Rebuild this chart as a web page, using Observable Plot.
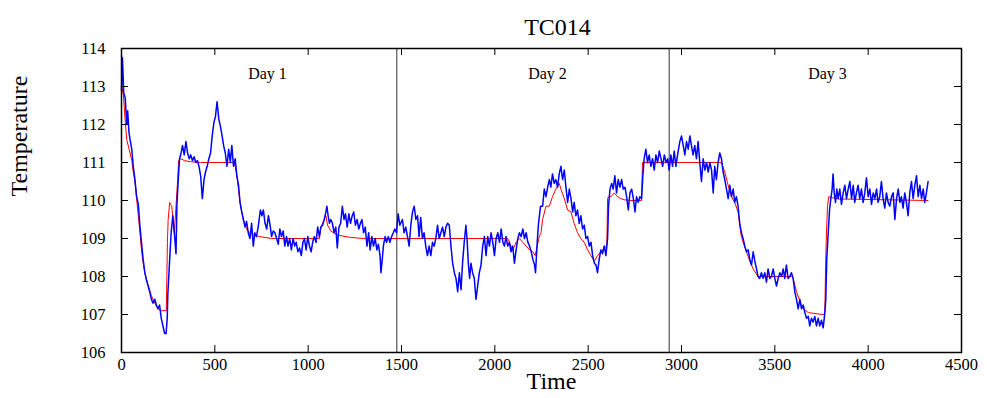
<!DOCTYPE html>
<html><head><meta charset="utf-8">
<script src="https://cdn.jsdelivr.net/npm/d3@7"></script>
<script src="https://cdn.jsdelivr.net/npm/@observablehq/plot@0.6"></script>
<style>body{margin:0;background:#fff}</style>
</head><body><div id="chart"></div>
<script>
const title = "TC014";
const xLabel = "Time";
const yLabel = "Temperature";
const xTicks = [0, 500, 1000, 1500, 2000, 2500, 3000, 3500, 4000, 4500];
const yTicks = [106, 107, 108, 109, 110, 111, 112, 113, 114];
const dayNames = ["Day 1", "Day 2", "Day 3"];
const dayLabelTime = [782, 2282, 3782];
const dayBoundaries = [1475, 2934];

const blueTime = [0,5,12,20,28,33,40,46,55,63,72,81,90,99,107,116,125,134,143,151,160,169,178,187,195,204,213,222,231,239,245,248,257,266,275,283,292,297,304,311,319,327,336,345,354,363,371,380,389,398,407,415,424,433,442,450,459,468,477,486,495,503,512,521,530,539,547,556,565,574,583,591,600,609,618,627,635,644,653,662,670,679,688,697,706,714,723,732,
744,752,760,769,778,787,796,804,813,822,831,840,848,857,866,875,884,892,901,910,919,928,936,945,954,963,972,980,989,998,1007,1016,1024,1033,1042,1051,1060,1068,1077,1086,1095,1100,1107,1114,1121,1130,1139,1148,1156,1165,1174,1183,1192,1200,1209,1218,1227,1236,1244,1253,1262,1271,1280,1288,1297,1306,1315,1324,1332,1341,1350,1359,1368,1376,1385,1390,1397,1403,1412,1420,1429,1438,1447,1456,1464,1473,1482,1491,
1505,1514,1523,1532,1541,1550,1559,1568,1577,1586,1594,1603,1612,1621,1630,1639,1648,1657,1666,1675,1684,1693,1702,1711,1720,1729,1738,1747,1756,1765,1774,1783,1792,1801,1810,1819,1827,1836,1845,1851,1858,1865,1872,1881,1890,1899,1908,1917,1926,1935,1944,1953,1962,1971,1980,1989,1998,2007,2016,2025,2034,2043,2051,2060,2069,2078,2087,2096,2105,2114,2123,2132,2141,2150,2159,2168,2177,2186,2195,2204,2213,2218,2227,2234,2245,
2256,2265,2274,2283,2292,2300,2309,2318,2327,2336,2345,2354,2363,2372,2381,2390,2399,2408,2417,2425,2434,2443,2452,2461,2470,2479,2488,2497,2506,2515,2524,2533,2542,2550,2559,2568,2577,2586,2595,2604,2609,2617,2626,2634,2643,2652,2661,2670,2679,2688,2697,2706,2715,2724,2733,2742,2751,2759,2768,2777,2786,2793,2800,2809,2818,2827,2836,2845,2854,2863,2872,2881,2890,2899,2908,2917,2926,2934,2943,2952,2961,2970,2979,
2991,3000,3009,3018,3027,3036,3045,3053,3062,3071,3080,3089,3098,3107,3116,3125,3134,3143,3152,3161,3170,3178,3187,3196,3205,3214,3223,3232,3241,3250,3259,3268,3277,3285,3294,3303,3312,3321,3330,3339,3348,3357,3366,3375,3384,3393,3402,3410,3419,3428,3437,3446,3455,3464,3473,3482,3491,3500,3509,3518,3527,3536,3545,3553,3562,3571,3580,3589,3598,3607,3616,3625,3634,3643,3652,3661,3670,3679,3687,3696,3705,3714,3723,3732,
3741,3750,3759,3768,3773,3778,3786,3793,3800,3807,3812,3818,3825,3832,3839,3848,3857,3866,3875,3884,3893,3902,3911,3920,3928,3937,3946,3955,3964,3973,3982,3991,4000,4009,4018,4027,4036,4045,4053,4062,4071,4080,4089,4098,4107,4116,4125,4134,4143,4152,4161,4170,4178,4187,4196,4205,4214,4223,4232,4241,4250,4259,4268,4277,4286,4295,4303,4312,4321];
const blueTemp = [112.9,113.76,112.84,112.7,112.0,112.36,111.8,111.6,111.35,110.9,110.55,110.1,109.9,109.3,108.9,108.45,108.1,107.9,107.75,107.6,107.4,107.3,107.4,107.25,107.15,107.25,106.9,106.7,106.5,106.5,106.9,107.5,108.35,109.15,109.6,109.15,108.6,109.9,110.55,111.1,111.25,111.45,111.2,111.55,111.25,111.1,111.2,111.05,111.15,111.0,111.05,110.9,110.65,110.05,110.55,110.75,110.9,111.1,111.25,111.7,112.05,112.2,112.6,112.15,111.95,111.7,111.45,111.25,110.9,111.35,111.0,111.45,110.9,111.1,110.65,110.4,109.95,109.7,109.5,109.3,109.45,109.15,109.0,109.4,108.8,109.15,109.05,109.3,
109.75,109.6,109.75,109.4,109.25,109.6,109.35,109.05,109.2,109.15,109.0,108.85,109.25,109.05,109.2,108.8,109.05,108.8,109.0,108.7,109.0,108.8,108.9,108.65,108.75,108.55,108.9,109.0,108.7,109.05,108.8,108.65,108.9,109.05,108.9,109.3,109.05,109.3,109.35,109.5,109.7,109.85,109.6,109.4,109.5,109.4,109.15,109.3,108.75,109.3,109.4,109.85,109.5,109.65,109.3,109.65,109.4,109.6,109.7,109.35,109.5,109.25,109.4,109.5,109.15,109.3,108.8,109.15,108.7,109.05,108.8,109.0,108.7,108.85,108.55,108.1,108.45,108.8,109.05,108.9,109.05,108.9,109.05,109.15,109.25,109.15,109.65,109.35,
109.5,109.15,109.3,109.05,108.8,109.35,109.7,109.85,109.5,109.6,109.05,109.55,109.0,109.15,108.8,108.55,108.8,108.55,108.9,108.8,109.0,109.35,109.0,109.15,109.3,109.05,109.3,109.4,109.35,108.8,108.35,108.1,107.95,107.6,108.1,107.65,108.35,108.9,109.35,109.0,108.35,107.95,108.35,108.1,107.95,107.4,107.75,108.1,108.3,108.8,109.05,108.55,109.05,108.8,109.15,108.9,108.55,109.0,109.15,108.9,109.25,108.9,108.8,109.05,108.8,108.9,108.65,108.8,108.35,108.7,109.0,109.15,109.05,109.25,109.0,109.15,108.9,108.8,108.65,108.45,108.3,108.1,108.9,109.4,109.85,
109.85,110.3,110.1,110.35,110.55,110.35,110.7,110.45,110.55,110.35,110.7,110.9,110.55,110.8,110.35,109.95,110.3,110.05,109.7,109.95,109.6,109.75,109.4,109.6,109.25,109.35,109.0,109.05,108.8,108.9,108.55,108.35,108.3,108.1,108.45,108.7,108.6,108.8,108.55,109.0,109.85,110.3,110.45,110.3,110.65,110.2,110.55,110.35,110.55,110.3,110.35,110.1,109.75,110.2,110.3,110.05,109.7,110.1,109.95,110.1,110.05,110.65,111.1,111.35,111.0,111.2,110.9,111.1,110.8,111.2,111.0,111.3,111.1,110.9,111.2,111.0,111.1,110.8,111.2,110.9,111.3,110.9,111.2,
111.55,111.7,111.45,111.2,111.55,111.35,111.7,111.45,111.2,111.45,111.1,111.55,111.0,110.5,111.1,110.8,111.0,110.75,111.0,110.8,110.2,110.9,110.55,111.0,111.25,111.1,110.75,110.55,110.3,110.05,110.4,110.1,110.3,109.95,110.1,109.85,109.4,109.15,109.0,108.8,108.65,108.7,108.45,108.3,108.65,108.4,108.2,108.0,107.95,108.1,107.95,108.1,107.85,108.2,107.95,108.0,108.2,107.95,107.75,107.95,108.1,108.0,108.2,107.95,108.3,107.95,108.0,108.1,107.95,107.6,107.4,107.15,107.4,107.15,107.25,107.05,106.9,106.95,106.7,106.9,106.8,106.95,106.7,106.9,
106.7,106.85,106.65,107.05,107.4,108.45,109.15,109.75,110.05,110.3,110.7,110.2,109.95,110.3,110.05,110.3,109.9,110.2,110.4,110.05,110.3,110.5,110.05,110.4,109.95,110.2,110.4,110.05,110.3,109.95,110.2,110.6,110.1,110.3,109.9,110.2,110.05,110.3,109.95,110.1,110.5,110.05,109.8,110.2,109.95,109.85,110.1,110.2,109.5,110.05,110.3,109.95,110.1,109.8,110.2,109.95,109.6,110.2,110.5,110.05,110.4,110.65,110.1,110.4,110.05,110.3,109.95,110.2,110.5];

const redTime = [0,11,19,28,46,55,63,72,81,90,99,107,116,125,143,160,178,195,213,240,243,246,250,258,262,269,283,292,301,306,319,336,371,424,600,609,618,635,653,670,688,706,741,804,1060,1068,1086,1095,1104,1121,1156,1227,1297,2069,2078,2096,2114,2132,2150,2168,2186,2204,2216,2227,2238,2247,2256,2274,2292,2309,2327,2345,2354,2372,2390,2408,2425,2443,2461,2479,2497,2515,2533,2550,2568,2586,2600,2604,2609,2622,2640,2657,2675,2693,2729,2786,2791,3214,3232,3250,3268,3285,3303,3312,3321,3330,3348,3366,3384,3410,3589,3598,3616,3634,3652,3679,3754,3764,3768,3771,3775,3782,3789,3803,3839,4321];
const redTemp = [113.0,112.75,112.15,111.6,111.25,111.05,110.75,110.5,110.05,109.6,109.15,108.7,108.35,108.1,107.75,107.5,107.3,107.15,107.1,107.1,108.0,108.9,109.5,109.95,109.9,109.85,109.15,109.85,110.55,111.05,111.1,111.05,111.02,111.0,111.0,110.9,110.65,109.95,109.5,109.25,109.15,109.1,109.05,109.0,109.0,109.3,109.5,109.6,109.35,109.2,109.09,109.03,109.0,109.0,108.9,108.7,108.9,109.0,108.9,108.8,108.7,108.65,108.55,108.8,109.05,109.15,109.5,109.85,109.85,110.1,110.3,110.45,110.3,110.05,109.75,109.7,109.4,109.15,109.0,108.9,108.7,108.55,108.4,108.55,108.65,108.75,108.8,110.05,110.1,110.1,110.2,110.1,110.05,110.02,110.0,110.0,111.0,111.0,110.75,110.4,110.1,109.95,109.7,109.35,109.05,108.9,108.65,108.4,108.2,108.0,108.0,107.95,107.6,107.35,107.15,107.05,107.0,107.0,107.1,108.0,108.9,109.85,110.1,110.08,110.04,110.0];

const W = 987, H = 398, mL = 121, mR = 26, mT = 48, mB = 46;
const fw = W - mL - mR, fh = H - mT - mB, tl = 7;
const blue = blueTime.map((t, i) => ({t, v: blueTemp[i]}));
const red = redTime.map((t, i) => ({t, v: redTemp[i]}));
const xInner = xTicks.slice(1, -1), yInner = yTicks.slice(1, -1);

const chart = Plot.plot({
  width: W, height: H,
  marginLeft: mL, marginRight: mR, marginTop: mT, marginBottom: mB,
  x: {domain: [0, 4500]},
  y: {domain: [106, 114]},
  style: {fontFamily: "'Liberation Serif', 'Times New Roman', serif", fontSize: "16px", background: "white", color: "black"},
  marks: [
    Plot.ruleX(dayBoundaries, {stroke: "#333", strokeWidth: 1}),
    Plot.line(red, {x: "t", y: "v", stroke: "#ff0000", strokeWidth: 1}),
    Plot.line(blue, {x: "t", y: "v", stroke: "#0000ff", strokeWidth: 1.5}),
    Plot.frame({stroke: "black", strokeWidth: 1.5}),
    Plot.tickX(xInner, {x: d => d, insetTop: fh - tl, stroke: "black"}),
    Plot.tickX(xInner, {x: d => d, insetBottom: fh - tl, stroke: "black"}),
    Plot.tickY(yInner, {y: d => d, insetRight: fw - tl, stroke: "black"}),
    Plot.tickY(yInner, {y: d => d, insetLeft: fw - tl, stroke: "black"}),
    Plot.axisX({ticks: xTicks, tickFormat: d => String(d), tickSize: 0, tickPadding: 6, label: null, fontSize: 16.5}),
    Plot.axisY({ticks: yTicks, tickFormat: d => String(d), tickSize: 0, tickPadding: 16, label: null, fontSize: 16.5}),
    Plot.text(dayNames, {x: (d, i) => dayLabelTime[i], frameAnchor: "top", dy: 19, fontSize: 16}),
    Plot.text([title], {frameAnchor: "top", dx: 16, dy: -31, fontSize: 24}),
    Plot.text([xLabel], {frameAnchor: "bottom", dx: 10, dy: 36, fontSize: 24}),
    Plot.text([yLabel], {frameAnchor: "left", rotate: -90, dx: -102, dy: -4, fontSize: 24})
  ]
});
document.getElementById("chart").appendChild(chart);
</script>
</body></html>
